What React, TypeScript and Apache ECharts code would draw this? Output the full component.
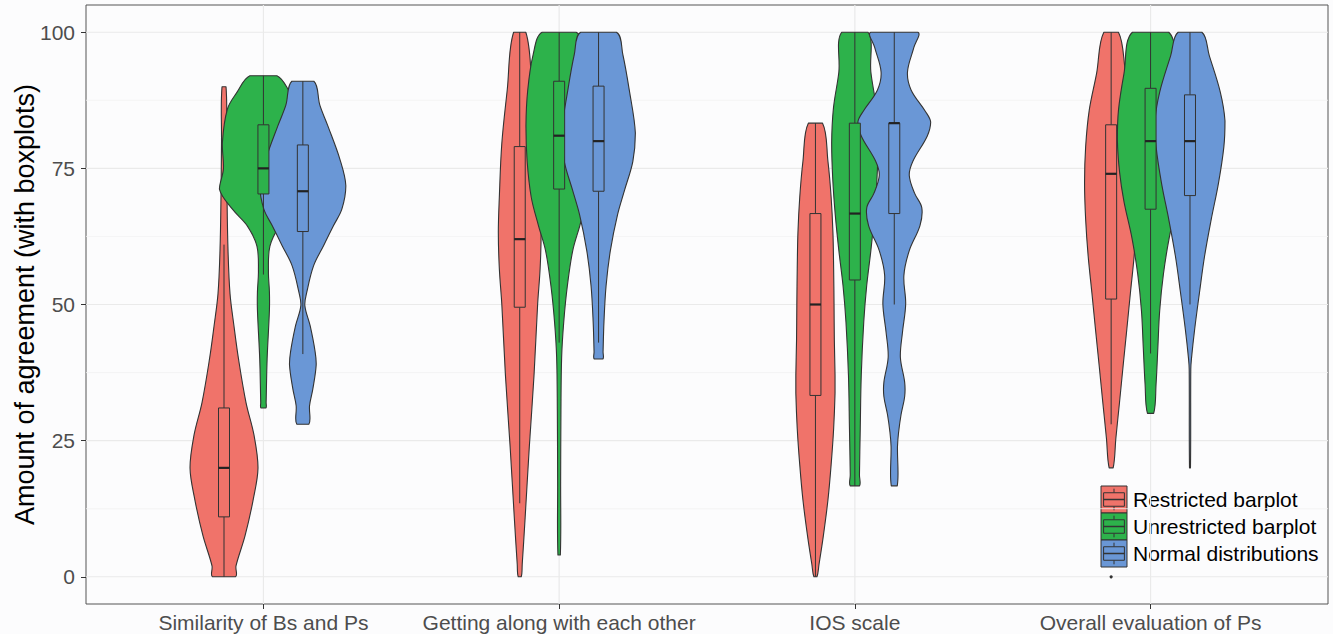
import { useEffect, useRef } from "react";
import * as echarts from "echarts";

// ---------- data ----------
const categories = [
  "Similarity of Bs and Ps",
  "Getting along with each other",
  "IOS scale",
  "Overall evaluation of Ps",
];
const groupNames = ["Restricted barplot", "Unrestricted barplot", "Normal distributions"];

const yTicks = [0, 25, 50, 75, 100];
const yMinorTicks = [12.5, 37.5, 62.5, 87.5];
const xTicks = [1, 2, 3, 4];

// violin profiles: [value, relative density] (bottom -> top), one list per category
const restrictedViolins = [
  [[0, 11.5], [2, 12], [7.5, 21], [14, 29], [20, 34], [26, 30], [32, 22], [40, 14.5], [46, 10], [52, 6], [60, 4], [70, 3], [80, 2.5], [90, 2]],
  [[0, 1.5], [2.3, 2.5], [10.8, 5.4], [23.9, 9.6], [37, 14.3], [50, 17.9], [56.6, 20.4], [63.2, 21.4], [69.7, 20.4], [79.6, 17.9], [89.4, 12.5], [100, 6.1]],
  [[0, 1.5], [2.3, 3.6], [7.5, 7.9], [14.1, 12.5], [20.6, 15.7], [27.2, 18.2], [33.7, 19.6], [37, 19.6], [43.5, 18.9], [50.1, 18.6], [56.6, 18.2], [63.2, 17.5], [69.7, 15.7], [76.3, 12.5], [83.3, 7.1]],
  [[20, 2], [25.4, 4.7], [32.1, 8.4], [38.8, 12], [45.5, 15.7], [52.2, 19.3], [58.9, 23], [65.6, 25.5], [72.3, 26.6], [79, 25.5], [85.7, 21.9], [92.4, 14.6], [100, 7.3]],
];
const unrestrictedViolins = [
  [[31, 2.5], [32, 2.7], [40, 3.7], [49, 6], [52.3, 6], [56, 5], [60.7, 6.5], [64.4, 16], [67.5, 31], [71.2, 44], [74.9, 40], [79.8, 41], [85.9, 36], [88.9, 26.7], [92, 13.5]],
  [[4, 1.2], [17.4, 1.5], [30.5, 1.8], [40.3, 2.5], [46.8, 4.6], [53.4, 8.2], [59.9, 13.6], [64.5, 20.7], [69.7, 27.9], [76.3, 32], [82.8, 33.2], [89.4, 31.4], [95.9, 26], [100, 17]],
  [[16.7, 4.6], [18.7, 4.6], [27.2, 5.4], [37, 6.4], [46.8, 8.9], [53.4, 11.8], [59.9, 16], [66.5, 19.6], [73, 22.1], [79.6, 23.2], [86.1, 21.4], [92.7, 16], [100, 13.2]],
  [[30, 3.1], [35.4, 5.5], [42.1, 7.3], [48.8, 9.1], [55.5, 12.8], [62.2, 18.6], [68.9, 26.6], [74.3, 31], [80.3, 33.2], [85.7, 32.1], [92.4, 26.6], [100, 18.2]],
];
const normalViolins = [
  [[28, 6], [31.4, 6.7], [34.5, 10], [38.8, 13.3], [41.3, 12.3], [46.1, 7.3], [49.8, 2], [52.3, 4], [57.1, 10.7], [60.8, 20.7], [64.5, 30.7], [67.5, 39], [71.8, 43], [76.7, 37], [82.8, 25], [86.6, 17], [91, 11]],
  [[40, 4.3], [41.3, 4.5], [46.8, 5.4], [53.4, 7.5], [59.9, 11.8], [66.5, 19], [71, 26], [76.3, 34.3], [81.5, 36.8], [89.4, 30.7], [95.9, 24.3], [100, 17.9]],
  [[16.7, 3], [23.9, 3.2], [26.5, 4.3], [29.8, 6.8], [33.1, 10.4], [35.7, 10.4], [40.3, 6.1], [44.9, 8.2], [50.1, 11.4], [55.3, 9.6], [59.9, 15], [64.5, 25.7], [67.8, 27.5], [70.4, 20.4], [73.7, 15], [76.3, 18.6], [80.9, 32.9], [83.5, 36.4], [85.5, 31], [89.4, 16.8], [92.7, 13.2], [97.2, 19.6], [100, 23.6]],
  [[20, 0.5], [38.1, 0.8], [40.1, 1.5], [45.5, 4.7], [52.2, 9.5], [58.9, 14.6], [65.6, 21.2], [72.3, 28.5], [79, 33.9], [83.7, 35], [89, 30.3], [95.7, 19.3], [100, 11.9]],
];

// boxplot stats: [lower whisker, Q1, median, Q3, upper whisker]
const restrictedBoxes = [
  [0, 11, 20, 31, 61],
  [13.5, 49.5, 62, 79, 100],
  [0, 33.3, 50, 66.7, 83.3],
  [28, 51, 74, 83, 100],
];
const unrestrictedBoxes = [
  [55.5, 70.3, 75, 83, 92],
  [43, 71.2, 81, 91, 100],
  [16.7, 54.5, 66.7, 83.3, 100],
  [41, 67.5, 80, 89.7, 100],
];
const normalBoxes = [
  [40.9, 63.4, 70.8, 79.3, 91],
  [43, 70.8, 80, 90.1, 100],
  [50, 66.7, 83.3, 83.3, 100],
  [50, 70, 80, 88.5, 100],
];
// outliers: [group, category, value]
const outliers = [[0, 3, 0]];

// ---------- styles ----------
const groupColors = ["#F0736A", "#2DB24B", "#6A97D6"];
const OUTLINE = "#333333";
const BG = "#FCFCFD";
const FONT = "'Liberation Sans', Arial, Helvetica, sans-serif";
const DODGE = 0.1333; // x-axis units between dodged groups
const DENSITY_PX = 1.0; // px per density unit
const BOX_HALF_PX = 5.5;

const violinSets = [restrictedViolins, unrestrictedViolins, normalViolins];
const boxSets = [restrictedBoxes, unrestrictedBoxes, normalBoxes];

export default function App() {
  const ref = useRef<HTMLDivElement>(null);

  useEffect(() => {
    document.body.style.margin = "0";
    if (!ref.current) return;
    const chart = echarts.init(ref.current, null, { renderer: "svg" });

    const items: number[][] = [];
    categories.forEach((_, c) => groupNames.forEach((_, g) => items.push([g, c])));

    const gridItems: number[][] = [
      ...yMinorTicks.map((v) => [1, v]),
      ...yTicks.map((v) => [0, v]),
      ...xTicks.map((v) => [2, v]),
    ];

    const centerX = (api: any, g: number, c: number) =>
      api.coord([c + 1 + (g - 1) * DODGE, 0])[0];

    const legendChildren: any[] = [];
    legendChildren.push({
      type: "rect",
      shape: { x: 1093, y: 479, width: 232, height: 93 },
      style: { fill: BG },
    });
    groupNames.forEach((name, i) => {
      const kx = 1101, ky = 486 + i * 27, kw = 26, kh = 27;
      legendChildren.push({
        type: "rect",
        shape: { x: kx, y: ky, width: kw, height: kh },
        style: { fill: groupColors[i], stroke: OUTLINE, lineWidth: 1 },
      });
      legendChildren.push({
        type: "line",
        shape: { x1: kx + kw / 2, y1: ky + kh * 0.1, x2: kx + kw / 2, y2: ky + kh * 0.25 },
        style: { stroke: OUTLINE, lineWidth: 1 },
      });
      legendChildren.push({
        type: "line",
        shape: { x1: kx + kw / 2, y1: ky + kh * 0.75, x2: kx + kw / 2, y2: ky + kh * 0.9 },
        style: { stroke: OUTLINE, lineWidth: 1 },
      });
      legendChildren.push({
        type: "rect",
        shape: { x: kx + kw * 0.1, y: ky + kh * 0.25, width: kw * 0.8, height: kh * 0.5 },
        style: { fill: groupColors[i], stroke: OUTLINE, lineWidth: 1 },
      });
      legendChildren.push({
        type: "line",
        shape: { x1: kx + kw * 0.1, y1: ky + kh / 2, x2: kx + kw * 0.9, y2: ky + kh / 2 },
        style: { stroke: OUTLINE, lineWidth: 1.5 },
      });
      legendChildren.push({
        type: "text",
        style: {
          x: 1133,
          y: ky + kh / 2,
          text: name,
          fill: "#000",
          font: `21px ${FONT}`,
          verticalAlign: "middle",
          align: "left",
        },
      });
    });

    chart.setOption({
      animation: false,
      backgroundColor: BG,
      grid: {
        left: 86,
        right: 5,
        top: 5,
        bottom: 30,
        containLabel: false,
        outerBoundsMode: "none",
        show: true,
        backgroundColor: BG,
        borderColor: "#555555",
        borderWidth: 1,
      },
      xAxis: {
        type: "value",
        min: 0.4,
        max: 4.6,
        splitLine: { show: false },
        axisLine: { show: false, onZero: false },
        axisTick: { show: true, customValues: xTicks, length: 5, lineStyle: { color: OUTLINE } },
        axisLabel: {
          customValues: xTicks,
          formatter: (v: number) => categories[Math.round(v) - 1] ?? "",
          color: "#4D4D4D",
          fontSize: 21,
          fontFamily: FONT,
          margin: 8,
        },
      },
      yAxis: {
        type: "value",
        min: -5,
        max: 105,
        name: "Amount of agreement (with boxplots)",
        nameLocation: "middle",
        nameGap: 48,
        nameMoveOverlap: false,
        nameTextStyle: { fontSize: 27, color: "#000", fontFamily: FONT },
        splitLine: { show: false },
        axisLine: { show: false, onZero: false },
        axisTick: { show: true, customValues: yTicks, length: 5, lineStyle: { color: OUTLINE } },
        axisLabel: {
          customValues: yTicks,
          color: "#4D4D4D",
          fontSize: 21,
          fontFamily: FONT,
          margin: 11,
        },
      },
      series: [
        {
          type: "custom",
          z: 1,
          silent: true,
          data: gridItems,
          renderItem: (params: any, api: any) => {
            const kind = api.value(0);
            const v = api.value(1);
            const cs = params.coordSys;
            if (kind === 2) {
              const x = api.coord([v, 0])[0];
              return {
                type: "line",
                shape: { x1: x, y1: cs.y, x2: x, y2: cs.y + cs.height },
                style: { stroke: "#EAEAEA", lineWidth: 1.2 },
              };
            }
            const y = api.coord([0, v])[1];
            return {
              type: "line",
              shape: { x1: cs.x, y1: y, x2: cs.x + cs.width, y2: y },
              style: { stroke: kind === 0 ? "#EAEAEA" : "#F2F2F2", lineWidth: kind === 0 ? 1.2 : 0.8 },
            };
          },
        },
        {
          type: "custom",
          z: 2,
          silent: true,
          clip: false,
          data: items,
          renderItem: (_params: any, api: any) => {
            const g = api.value(0);
            const c = api.value(1);
            const profile = violinSets[g][c];
            const cx = centerX(api, g, c);
            const right = profile.map(([v, d]: number[]) => [cx + d * DENSITY_PX, api.coord([0, v])[1]]);
            const left = profile
              .slice()
              .reverse()
              .map(([v, d]: number[]) => [cx - d * DENSITY_PX, api.coord([0, v])[1]]);
            const pts = [...right, ...left];
            const xs = pts.map((p) => p[0]);
            const ys = pts.map((p) => p[1]);
            return {
              type: "polygon",
              shape: {
                points: pts,
                smooth: 0.35,
                smoothConstraint: [
                  [Math.min(...xs), Math.min(...ys)],
                  [Math.max(...xs), Math.max(...ys)],
                ],
              },
              style: { fill: groupColors[g], stroke: OUTLINE, lineWidth: 1.1, lineJoin: "round" },
            };
          },
        },
        {
          type: "custom",
          z: 3,
          silent: true,
          clip: false,
          data: items,
          renderItem: (_params: any, api: any) => {
            const g = api.value(0);
            const c = api.value(1);
            const [lo, q1, med, q3, hi] = boxSets[g][c];
            const cx = centerX(api, g, c);
            const y = (v: number) => api.coord([0, v])[1];
            const children: any[] = [
              {
                type: "line",
                shape: { x1: cx, y1: y(lo), x2: cx, y2: y(q1) },
                style: { stroke: OUTLINE, lineWidth: 1 },
              },
              {
                type: "line",
                shape: { x1: cx, y1: y(q3), x2: cx, y2: y(hi) },
                style: { stroke: OUTLINE, lineWidth: 1 },
              },
              {
                type: "rect",
                shape: { x: cx - BOX_HALF_PX, y: y(q3), width: BOX_HALF_PX * 2, height: y(q1) - y(q3) },
                style: { fill: groupColors[g], stroke: OUTLINE, lineWidth: 1 },
              },
              {
                type: "line",
                shape: { x1: cx - BOX_HALF_PX, y1: y(med), x2: cx + BOX_HALF_PX, y2: y(med) },
                style: { stroke: "#222", lineWidth: 2.2 },
              },
            ];
            outliers
              .filter((o) => o[0] === g && o[1] === c)
              .forEach((o) =>
                children.push({
                  type: "circle",
                  shape: { cx, cy: y(o[2]), r: 1.6 },
                  style: { fill: OUTLINE },
                })
              );
            return { type: "group", children };
          },
        },
      ],
      graphic: [{ type: "group", z: 10, children: legendChildren }],
    });

    return () => chart.dispose();
  }, []);

  return (
    <div
      ref={ref}
      style={{ position: "absolute", left: 0, top: 0, width: 1333, height: 634 }}
    />
  );
}
